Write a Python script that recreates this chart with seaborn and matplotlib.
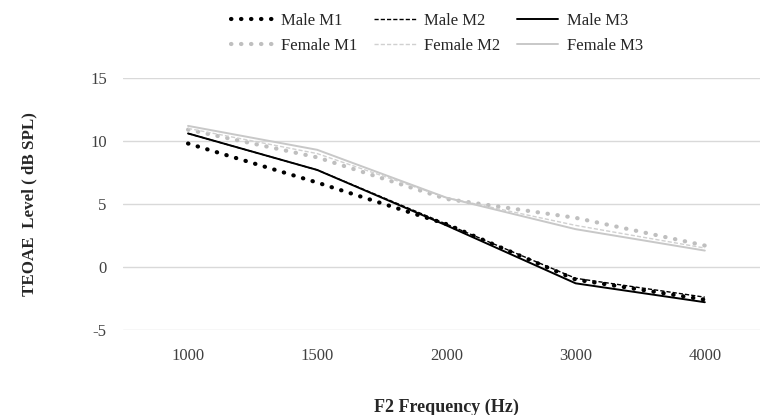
import matplotlib

matplotlib.use("Agg")
import matplotlib.pyplot as plt
import seaborn as sns
import pandas as pd

sns.set_theme(style="white")
plt.rcParams["font.family"] = ["Liberation Serif", "DejaVu Serif"]
plt.rcParams["axes.unicode_minus"] = False

freqs = ["1000", "1500", "2000", "3000", "4000"]
male_m1 = [9.8, 6.7, 3.4, -1.0, -2.6]
male_m2 = [10.6, 7.7, 3.4, -0.9, -2.4]
male_m3 = [10.6, 7.7, 3.3, -1.3, -2.8]
female_m1 = [10.9, 8.7, 5.4, 3.9, 1.7]
female_m2 = [11.0, 9.0, 5.5, 3.3, 1.5]
female_m3 = [11.2, 9.3, 5.5, 3.0, 1.3]

series = {
    "Male M1": male_m1,
    "Male M2": male_m2,
    "Male M3": male_m3,
    "Female M1": female_m1,
    "Female M2": female_m2,
    "Female M3": female_m3,
}
styles = {
    "Male M1": dict(color="black", lw=3.0, ls=(0, (0.1, 2.3)), cap="round"),
    "Male M2": dict(color="black", lw=1.0, ls=(0, (3, 1.5)), cap="butt"),
    "Male M3": dict(color="black", lw=1.4, ls="-", cap="butt"),
    "Female M1": dict(color="#bfbfbf", lw=3.0, ls=(0, (0.1, 2.3)), cap="round"),
    "Female M2": dict(color="#d0d0d0", lw=1.0, ls=(0, (3, 1.5)), cap="butt"),
    "Female M3": dict(color="#c8c8c8", lw=1.4, ls="-", cap="butt"),
}

fig = plt.figure(figsize=(7.6, 4.15), dpi=100)
ax = fig.add_axes([0.1624, 0.205, 0.85, 0.607])

handles = {}
for name, vals in series.items():
    df = pd.DataFrame({"freq": freqs, "level": vals})
    st = styles[name]
    sns.lineplot(data=df, x="freq", y="level", ax=ax, color=st["color"],
                 linewidth=st["lw"], label=name, sort=False)
    line = ax.lines[-1]
    line.set_linestyle(st["ls"])
    line.set_dash_capstyle(st["cap"])
    handles[name] = line

ax.set_xlim(-0.5, 4.5)
ax.set_ylim(-5, 15)
ax.set_yticks([-5, 0, 5, 10, 15])
ax.yaxis.grid(True, color="#d9d9d9", lw=1.0)
ax.set_axisbelow(True)
for s in ax.spines.values():
    s.set_visible(False)
ax.tick_params(axis="both", length=0, labelsize=12, labelcolor="#404040", pad=12)
ax.tick_params(axis="x", pad=13)

ax.set_xlabel("F2 Frequency (Hz)", fontsize=13, fontweight="bold", labelpad=25)
ax.set_ylabel("TEOAE  Level ( dB SPL)", fontsize=12.2, fontweight="bold", labelpad=38)

ax.get_legend().remove()
order = ["Male M1", "Female M1", "Male M2", "Female M2", "Male M3", "Female M3"]
fig.legend([handles[n] for n in order], order, loc="upper center",
           bbox_to_anchor=(0.575, 1.005), ncol=3, frameon=False, fontsize=12,
           handlelength=2.5, handletextpad=0.5, columnspacing=1.0,
           labelspacing=0.55, labelcolor="#262626")

fig.savefig("out.png", dpi=100, facecolor="w")
plt.close()
